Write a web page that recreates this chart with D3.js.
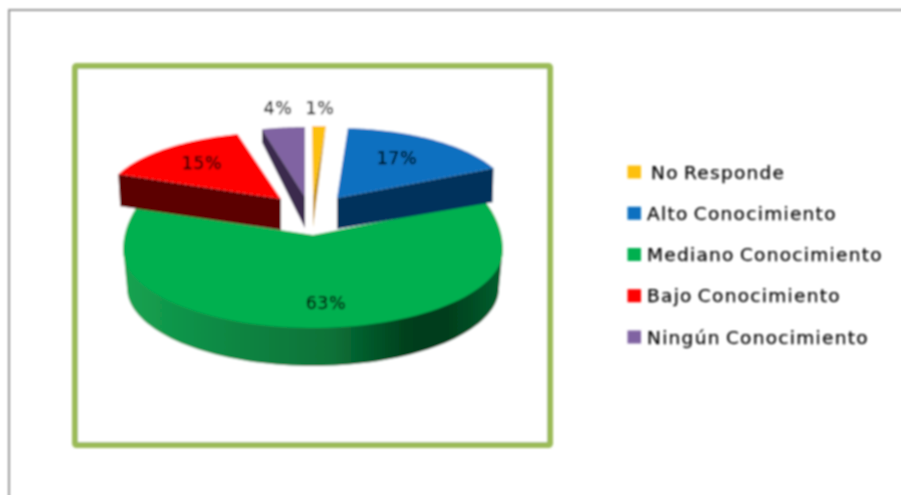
<!DOCTYPE html>
<html><head><meta charset="utf-8">
<script src="https://cdn.jsdelivr.net/npm/d3@7"></script>
<style>html,body{margin:0;padding:0;background:#fff}svg{display:block}text{font-family:"DejaVu Sans",sans-serif;fill:#000;stroke:#000;stroke-width:0.25}</style>
</head><body><div id="c"></div>
<script>
const categories=["No Responde","Alto Conocimiento","Mediano Conocimiento","Bajo Conocimiento","Ningún Conocimiento"];
const values=[1,17,63,15,4];
const topColors=["#fdc010","#0a6fc0","#00b050","#ff0000","#8064a2"];
const sideColors=["#c4930f","#00305c","#0b7a3c","#5c0000","#3a2c4e"];
const W=901,H=495;
const svg=d3.select("#c").append("svg").attr("width",W).attr("height",H);
const defs=svg.append("defs");
defs.append("filter").attr("id","soft").attr("filterUnits","userSpaceOnUse").attr("x",0).attr("y",0).attr("width",W).attr("height",H)
  .append("feGaussianBlur").attr("stdDeviation",0.85);
const g=defs.append("linearGradient").attr("id","gs").attr("gradientUnits","userSpaceOnUse").attr("x1",123).attr("x2",503).attr("y1",0).attr("y2",0);
[[0,"#14a351"],[0.3,"#0d8542"],[0.55,"#087238"],[0.75,"#033f1c"],[0.85,"#023d1c"],[1,"#04602e"]].forEach(s=>g.append("stop").attr("offset",s[0]).attr("stop-color",s[1]));

const root=svg.append("g").attr("filter","url(#soft)");
root.append("path").attr("d",`M${W+4},10H9V${H+4}`).attr("fill","none").attr("stroke","#999").attr("stroke-width",2);
root.append("rect").attr("x",75).attr("y",66).attr("width",475).attr("height",379).attr("rx",1.5)
  .attr("fill","#fff").attr("stroke","#9bbb59").attr("stroke-width",6);

const arcs=d3.pie().value(d=>d).sort(null)(values);
// slice geometry: apex, ellipse centre, radii (upper / lower half), wall depth
const geom=[
 {ax:313,ay:196,cx:312,cy:197,rx:222,ryU:71,ryD:71,d:31},
 {ax:337,ay:198,cx:337,cy:198,rx:173,ryU:70,ryD:70,d:33},
 {ax:313,ay:235,cx:313,cy:250,rx:190,ryU:115,ryD:78,d:38},
 {ax:281,ay:199,cx:281,cy:199,rx:175,ryU:67,ryD:67,d:31},
 {ax:305,ay:197,cx:305,cy:197,rx:173,ryU:70,ryD:70,d:31}
];
const pt=(m,t,dy=0,rx=m.rx)=>{const c=Math.cos(t);return [m.cx+rx*Math.sin(t),m.cy-(c>0?m.ryU:m.ryD)*c+dy];};
const arcPts=(m,a0,a1,dy=0,rx=m.rx)=>d3.range(0,81).map(i=>pt(m,a0+(a1-a0)*i/80,dy,rx));
const line=d3.line();
const layer=root.append("g");
const topFace=i=>layer.append("path").attr("d",line([[geom[i].ax,geom[i].ay],...arcPts(geom[i],arcs[i].startAngle,arcs[i].endAngle)])+"Z").attr("fill",topColors[i]);

// green wall + top
{
 const m=geom[2];
 const s0=Math.PI/2,s1=Math.PI*1.5;
 const wall=arcPts(m,s0,s1,-3).concat(arcPts(m,s1,s0,m.d,186));
 layer.append("path").attr("d",line(wall)+"Z").attr("fill","url(#gs)");
 topFace(2);
}
// red
{
 const m=geom[3],p0=pt(m,arcs[3].startAngle);
 layer.append("path").attr("d",line([[m.ax,m.ay],p0,[p0[0]+2,p0[1]+m.d+1],[m.ax,m.ay+m.d]])+"Z").attr("fill",sideColors[3]);
 topFace(3);
}
// blue
{
 const m=geom[1],p1=pt(m,arcs[1].endAngle);
 layer.append("path").attr("d",line([[m.ax,m.ay],p1,[p1[0]-1,p1[1]+m.d+1],[m.ax,m.ay+m.d-2]])+"Z").attr("fill",sideColors[1]);
 topFace(1);
}
// purple
{
 const m=geom[4],p0=pt(m,arcs[4].startAngle);
 topFace(4);
 layer.append("path").attr("d",line([p0,[m.ax,m.ay],[m.ax,m.ay+m.d],[p0[0],p0[1]+13]])+"Z").attr("fill",sideColors[4]);
}
// yellow
{
 const m=geom[0],p1=pt(m,arcs[0].endAngle);
 layer.append("path").attr("d",line([[m.ax,m.ay],p1,[m.ax,m.ay+m.d]])+"Z").attr("fill",sideColors[0]);
 topFace(0);
}
// labels
const labelPos=[[320,108],[397,158],[326,303],[202,163],[278,108]];
root.append("g").selectAll("text").data(values).join("text")
 .attr("x",(d,i)=>labelPos[i][0]).attr("y",(d,i)=>labelPos[i][1]).attr("dy","0.36em")
 .attr("text-anchor","middle").attr("font-size",17.5).attr("letter-spacing",0.6).text(d=>d+"%");
// legend
const legendY=d3.scalePoint().domain(categories).range([172,337]);
const lg=root.append("g").selectAll("g").data(categories).join("g").attr("transform",d=>`translate(0,${legendY(d)})`);
lg.append("rect").attr("x",627.5).attr("y",-6.5).attr("width",13.5).attr("height",13).attr("fill",(d,i)=>topColors[i]).attr("stroke","none");
lg.append("text").attr("x",(d,i)=>i==0?651:647).attr("dy","0.36em").attr("font-size",18.5)
  .attr("letter-spacing",1.3).attr("word-spacing",-2).text(d=>d);
</script></body></html>
